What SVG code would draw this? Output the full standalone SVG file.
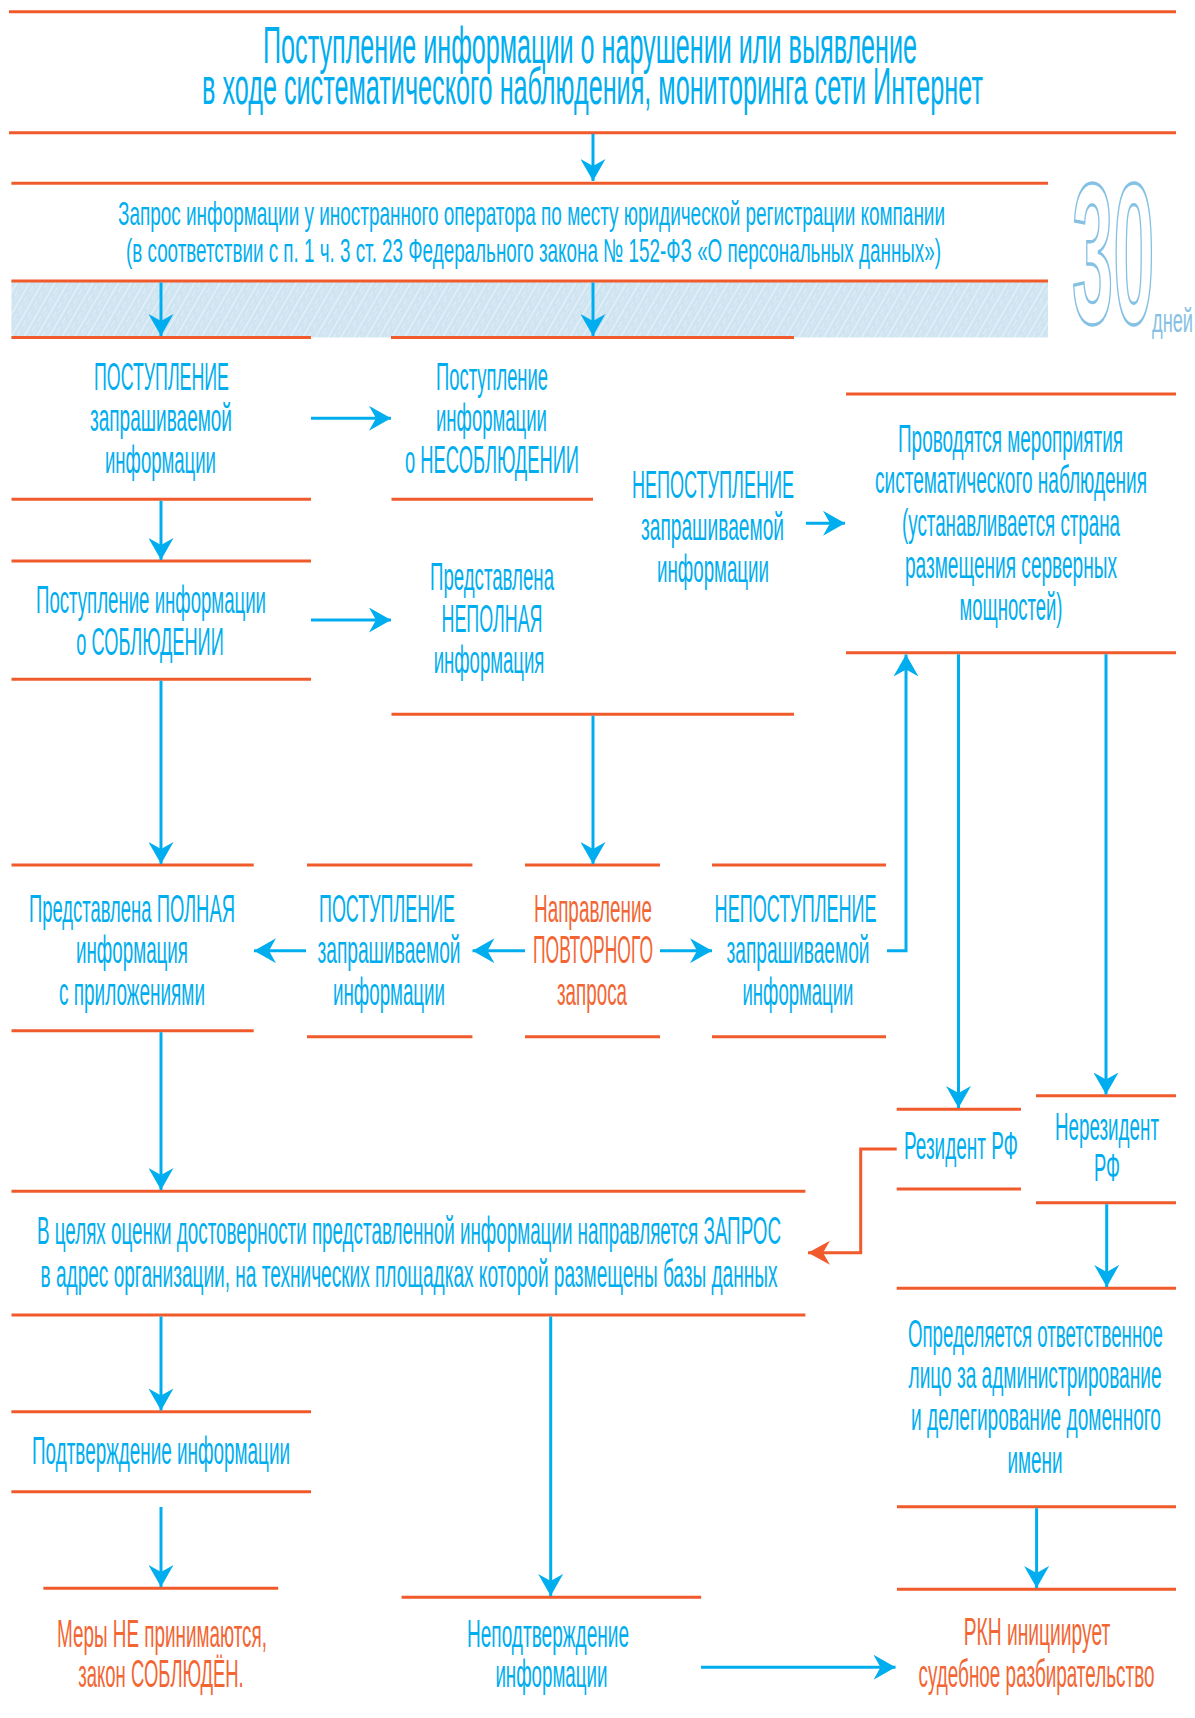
<svg xmlns="http://www.w3.org/2000/svg" width="1195" height="1718" viewBox="0 0 1195 1718">
<style>
.ln{stroke:#F15A2B;stroke-width:3;fill:none}
.t{font-family:"Liberation Sans Narrow","Liberation Sans",Arial,sans-serif;fill:#00AEEF;text-anchor:middle;font-size:38px}
.o{fill:#F26634}
.h1{font-size:52px}
.h2{font-size:33px}
.c{stroke:#00AEEF;stroke-width:3;fill:none;marker-end:url(#ah)}
.co{stroke:#F15A2B;stroke-width:3;fill:none;marker-end:url(#aho)}
</style>
<defs>
<marker id="ah" markerUnits="userSpaceOnUse" viewBox="-22 -12.5 22 25" refX="0" refY="0" markerWidth="22" markerHeight="25" orient="auto">
<path d="M0,0 L-22,-12.5 L-15,0 L-22,12.5 Z" fill="#00AEEF"/>
</marker>
<marker id="aho" markerUnits="userSpaceOnUse" viewBox="-22 -12.5 22 25" refX="0" refY="0" markerWidth="22" markerHeight="25" orient="auto">
<path d="M0,0 L-22,-12 L-15,0 L-22,12 Z" fill="#F15A2B"/>
</marker>
<pattern id="hatch" patternUnits="userSpaceOnUse" width="11" height="11" patternTransform="rotate(30)">
<rect width="11" height="11" fill="#CFE4F1"/>
<line x1="2" y1="0" x2="2" y2="11" stroke="#FFFFFF" stroke-width="0.9" stroke-opacity="0.75"/>
<line x1="6.5" y1="0" x2="6.5" y2="7" stroke="#FFFFFF" stroke-width="0.7" stroke-opacity="0.55"/>
<line x1="9" y1="3" x2="9" y2="11" stroke="#FFFFFF" stroke-width="0.5" stroke-opacity="0.45"/>
</pattern>
</defs>
<rect width="1195" height="1718" fill="#FFFFFF"/>

<g id="n-title">
<line class="ln" x1="9" y1="11.7" x2="1176" y2="11.7"/>
<text class="t h1" x="590" y="63" textLength="654" lengthAdjust="spacingAndGlyphs">Поступление информации о нарушении или выявление</text>
<text class="t h1" x="592.5" y="103.5" textLength="781" lengthAdjust="spacingAndGlyphs">в ходе систематического наблюдения, мониторинга сети Интернет</text>
<line class="ln" x1="9" y1="132.7" x2="1176" y2="132.7"/>
</g>

<g id="n-request">
<line class="ln" x1="11.4" y1="183.3" x2="1048" y2="183.3"/>
<text class="t h2" x="531.5" y="225" textLength="827" lengthAdjust="spacingAndGlyphs">Запрос информации у иностранного оператора по месту юридической регистрации компании</text>
<text class="t h2" x="533.5" y="262" textLength="815" lengthAdjust="spacingAndGlyphs">(в соответствии с п. 1 ч. 3 ст. 23 Федерального закона № 152-ФЗ «О персональных данных»)</text>
<rect x="11.4" y="281" width="1036.6" height="56.5" fill="url(#hatch)"/>
<line class="ln" x1="11.4" y1="281" x2="1048" y2="281"/>
</g>

<g id="n-30days">
<text transform="translate(1072,323) scale(0.37,1)" x="0" y="0" font-family="Liberation Sans,Arial,sans-serif" font-weight="bold" font-size="200" fill="#FFFFFF" stroke="#85C1E4" stroke-width="2.5" vector-effect="non-scaling-stroke">30</text>
<text x="1152" y="332" font-family="Liberation Sans Narrow,Liberation Sans,Arial,sans-serif" font-size="33" fill="#85C1E4" textLength="41" lengthAdjust="spacingAndGlyphs">дней</text>
</g>

<g id="n-received">
<line class="ln" x1="11.4" y1="337.5" x2="311" y2="337.5"/>
<text class="t" x="161.5" y="390" textLength="135" lengthAdjust="spacingAndGlyphs">ПОСТУПЛЕНИЕ</text>
<text class="t" x="161" y="431" textLength="142" lengthAdjust="spacingAndGlyphs">запрашиваемой</text>
<text class="t" x="160.5" y="473" textLength="111" lengthAdjust="spacingAndGlyphs">информации</text>
<line class="ln" x1="11.5" y1="499.3" x2="311" y2="499.3"/>
</g>

<g id="n-noncompliance">
<line class="ln" x1="391" y1="337.5" x2="794" y2="337.5"/>
<text class="t" x="492" y="390" textLength="112" lengthAdjust="spacingAndGlyphs">Поступление</text>
<text class="t" x="491.5" y="431" textLength="111" lengthAdjust="spacingAndGlyphs">информации</text>
<text class="t" x="492" y="473" textLength="174" lengthAdjust="spacingAndGlyphs">о НЕСОБЛЮДЕНИИ</text>
<line class="ln" x1="391.5" y1="499.3" x2="593" y2="499.3"/>
</g>

<g id="n-notreceived">
<text class="t" x="713" y="498" textLength="162" lengthAdjust="spacingAndGlyphs">НЕПОСТУПЛЕНИЕ</text>
<text class="t" x="712.5" y="540" textLength="143" lengthAdjust="spacingAndGlyphs">запрашиваемой</text>
<text class="t" x="713" y="582" textLength="112" lengthAdjust="spacingAndGlyphs">информации</text>
</g>

<g id="n-monitoring">
<line class="ln" x1="846" y1="394" x2="1176" y2="394"/>
<text class="t" x="1010.5" y="451.7" textLength="225" lengthAdjust="spacingAndGlyphs">Проводятся мероприятия</text>
<text class="t" x="1011" y="493.3" textLength="272" lengthAdjust="spacingAndGlyphs">систематического наблюдения</text>
<text class="t" x="1011" y="535.7" textLength="218" lengthAdjust="spacingAndGlyphs">(устанавливается страна</text>
<text class="t" x="1011" y="578" textLength="212" lengthAdjust="spacingAndGlyphs">размещения серверных</text>
<text class="t" x="1011" y="620" textLength="103" lengthAdjust="spacingAndGlyphs">мощностей)</text>
<line class="ln" x1="846" y1="652.7" x2="1176" y2="652.7"/>
</g>

<g id="n-compliance">
<line class="ln" x1="11.5" y1="561" x2="311" y2="561"/>
<text class="t" x="151" y="613" textLength="230" lengthAdjust="spacingAndGlyphs">Поступление информации</text>
<text class="t" x="150" y="655" textLength="147.5" lengthAdjust="spacingAndGlyphs">о СОБЛЮДЕНИИ</text>
<line class="ln" x1="11.5" y1="679.3" x2="311" y2="679.3"/>
</g>

<g id="n-incomplete">
<text class="t" x="492" y="590" textLength="124" lengthAdjust="spacingAndGlyphs">Представлена</text>
<text class="t" x="492" y="632" textLength="101" lengthAdjust="spacingAndGlyphs">НЕПОЛНАЯ</text>
<text class="t" x="489" y="673" textLength="110.6" lengthAdjust="spacingAndGlyphs">информация</text>
<line class="ln" x1="391.5" y1="714.3" x2="794" y2="714.3"/>
</g>

<g id="n-complete">
<line class="ln" x1="11.5" y1="865" x2="253.7" y2="865"/>
<text class="t" x="132" y="922" textLength="206" lengthAdjust="spacingAndGlyphs">Представлена ПОЛНАЯ</text>
<text class="t" x="132" y="963" textLength="112" lengthAdjust="spacingAndGlyphs">информация</text>
<text class="t" x="132" y="1005" textLength="146" lengthAdjust="spacingAndGlyphs">с приложениями</text>
<line class="ln" x1="11.5" y1="1030.7" x2="253.7" y2="1030.7"/>
</g>

<g id="n-received2">
<line class="ln" x1="307" y1="865" x2="472.4" y2="865"/>
<text class="t" x="387" y="922" textLength="136" lengthAdjust="spacingAndGlyphs">ПОСТУПЛЕНИЕ</text>
<text class="t" x="389" y="963" textLength="143" lengthAdjust="spacingAndGlyphs">запрашиваемой</text>
<text class="t" x="389" y="1005" textLength="112" lengthAdjust="spacingAndGlyphs">информации</text>
<line class="ln" x1="307" y1="1036.7" x2="472.4" y2="1036.7"/>
</g>

<g id="n-repeat">
<line class="ln" x1="525" y1="865" x2="660" y2="865"/>
<text class="t o" x="593" y="922" textLength="118" lengthAdjust="spacingAndGlyphs">Направление</text>
<text class="t o" x="593" y="963" textLength="120" lengthAdjust="spacingAndGlyphs">ПОВТОРНОГО</text>
<text class="t o" x="592" y="1005" textLength="70" lengthAdjust="spacingAndGlyphs">запроса</text>
<line class="ln" x1="525" y1="1036.7" x2="660" y2="1036.7"/>
</g>

<g id="n-notreceived2">
<line class="ln" x1="712" y1="865" x2="886" y2="865"/>
<text class="t" x="795.6" y="922" textLength="162" lengthAdjust="spacingAndGlyphs">НЕПОСТУПЛЕНИЕ</text>
<text class="t" x="798" y="963" textLength="143" lengthAdjust="spacingAndGlyphs">запрашиваемой</text>
<text class="t" x="798" y="1005" textLength="111" lengthAdjust="spacingAndGlyphs">информации</text>
<line class="ln" x1="712" y1="1036.7" x2="886" y2="1036.7"/>
</g>

<g id="n-resident">
<line class="ln" x1="896.7" y1="1109.3" x2="1021" y2="1109.3"/>
<text class="t" x="961" y="1159" textLength="114" lengthAdjust="spacingAndGlyphs">Резидент РФ</text>
<line class="ln" x1="896.7" y1="1189" x2="1021" y2="1189"/>
</g>

<g id="n-nonresident">
<line class="ln" x1="1036" y1="1095.7" x2="1176" y2="1095.7"/>
<text class="t" x="1107" y="1140" textLength="104" lengthAdjust="spacingAndGlyphs">Нерезидент</text>
<text class="t" x="1107" y="1181" textLength="26" lengthAdjust="spacingAndGlyphs">РФ</text>
<line class="ln" x1="1036" y1="1202.7" x2="1176" y2="1202.7"/>
</g>

<g id="n-verify">
<line class="ln" x1="11.5" y1="1191.3" x2="805.4" y2="1191.3"/>
<text class="t" x="409" y="1244" textLength="744" lengthAdjust="spacingAndGlyphs">В целях оценки достоверности представленной информации направляется ЗАПРОС</text>
<text class="t" x="409" y="1287" textLength="737" lengthAdjust="spacingAndGlyphs">в адрес организации, на технических площадках которой размещены базы данных</text>
<line class="ln" x1="11.5" y1="1315" x2="805.4" y2="1315"/>
</g>

<g id="n-responsible">
<line class="ln" x1="896.7" y1="1288.3" x2="1176" y2="1288.3"/>
<text class="t" x="1035.5" y="1347" textLength="255" lengthAdjust="spacingAndGlyphs">Определяется ответственное</text>
<text class="t" x="1035" y="1388" textLength="253" lengthAdjust="spacingAndGlyphs">лицо за администрирование</text>
<text class="t" x="1036" y="1430" textLength="250" lengthAdjust="spacingAndGlyphs">и делегирование доменного</text>
<text class="t" x="1035" y="1473" textLength="55" lengthAdjust="spacingAndGlyphs">имени</text>
<line class="ln" x1="897" y1="1506.7" x2="1176" y2="1506.7"/>
</g>

<g id="n-confirm">
<line class="ln" x1="11.4" y1="1411.7" x2="311" y2="1411.7"/>
<text class="t" x="161" y="1464" textLength="258" lengthAdjust="spacingAndGlyphs">Подтверждение информации</text>
<line class="ln" x1="11.4" y1="1491.7" x2="311" y2="1491.7"/>
</g>

<g id="n-nomeasures">
<line class="ln" x1="43.4" y1="1588.3" x2="278.2" y2="1588.3"/>
<text class="t o" x="162" y="1647" textLength="210" lengthAdjust="spacingAndGlyphs">Меры НЕ принимаются,</text>
<text class="t o" x="161" y="1687" textLength="165.5" lengthAdjust="spacingAndGlyphs">закон СОБЛЮДЁН.</text>
</g>

<g id="n-notconfirmed">
<line class="ln" x1="401.6" y1="1597.3" x2="701.2" y2="1597.3"/>
<text class="t" x="548" y="1647" textLength="162" lengthAdjust="spacingAndGlyphs">Неподтверждение</text>
<text class="t" x="551.4" y="1687" textLength="112" lengthAdjust="spacingAndGlyphs">информации</text>
</g>

<g id="n-court">
<line class="ln" x1="897" y1="1589.3" x2="1176" y2="1589.3"/>
<text class="t o" x="1037" y="1645" textLength="146.5" lengthAdjust="spacingAndGlyphs">РКН инициирует</text>
<text class="t o" x="1036.5" y="1687" textLength="236" lengthAdjust="spacingAndGlyphs">судебное разбирательство</text>
</g>

<g id="connectors">
<path class="c" d="M593,134 V181"/>
<path class="c" d="M161,282.5 V336"/>
<path class="c" d="M593,282.5 V336"/>
<path class="c" d="M311,418.3 H391"/>
<path class="c" d="M161,500.8 V560"/>
<path class="c" d="M311,620 H391"/>
<path class="c" d="M806,523.3 H845"/>
<path class="c" d="M161,680.8 V864"/>
<path class="c" d="M593,715.8 V864"/>
<path class="c" d="M525,950.7 H472.5"/>
<path class="c" d="M306,950.7 H254"/>
<path class="c" d="M660,950.7 H712"/>
<path class="c" d="M887,950.7 H906 V654.5"/>
<path class="c" d="M958.5,654.2 V1108"/>
<path class="c" d="M1106,654.2 V1094.5"/>
<path class="c" d="M161,1032.2 V1190"/>
<path class="c" d="M1106.7,1204.2 V1287"/>
<path class="co" d="M896.7,1149 H860.7 V1252.7 H808"/>
<path class="c" d="M161,1316.5 V1410.5"/>
<path class="c" d="M550.7,1316.5 V1596"/>
<path class="c" d="M161,1507 V1587"/>
<path class="c" d="M1036.6,1508.2 V1588"/>
<path class="c" d="M701,1667.3 H895.5"/>
</g>
</svg>
